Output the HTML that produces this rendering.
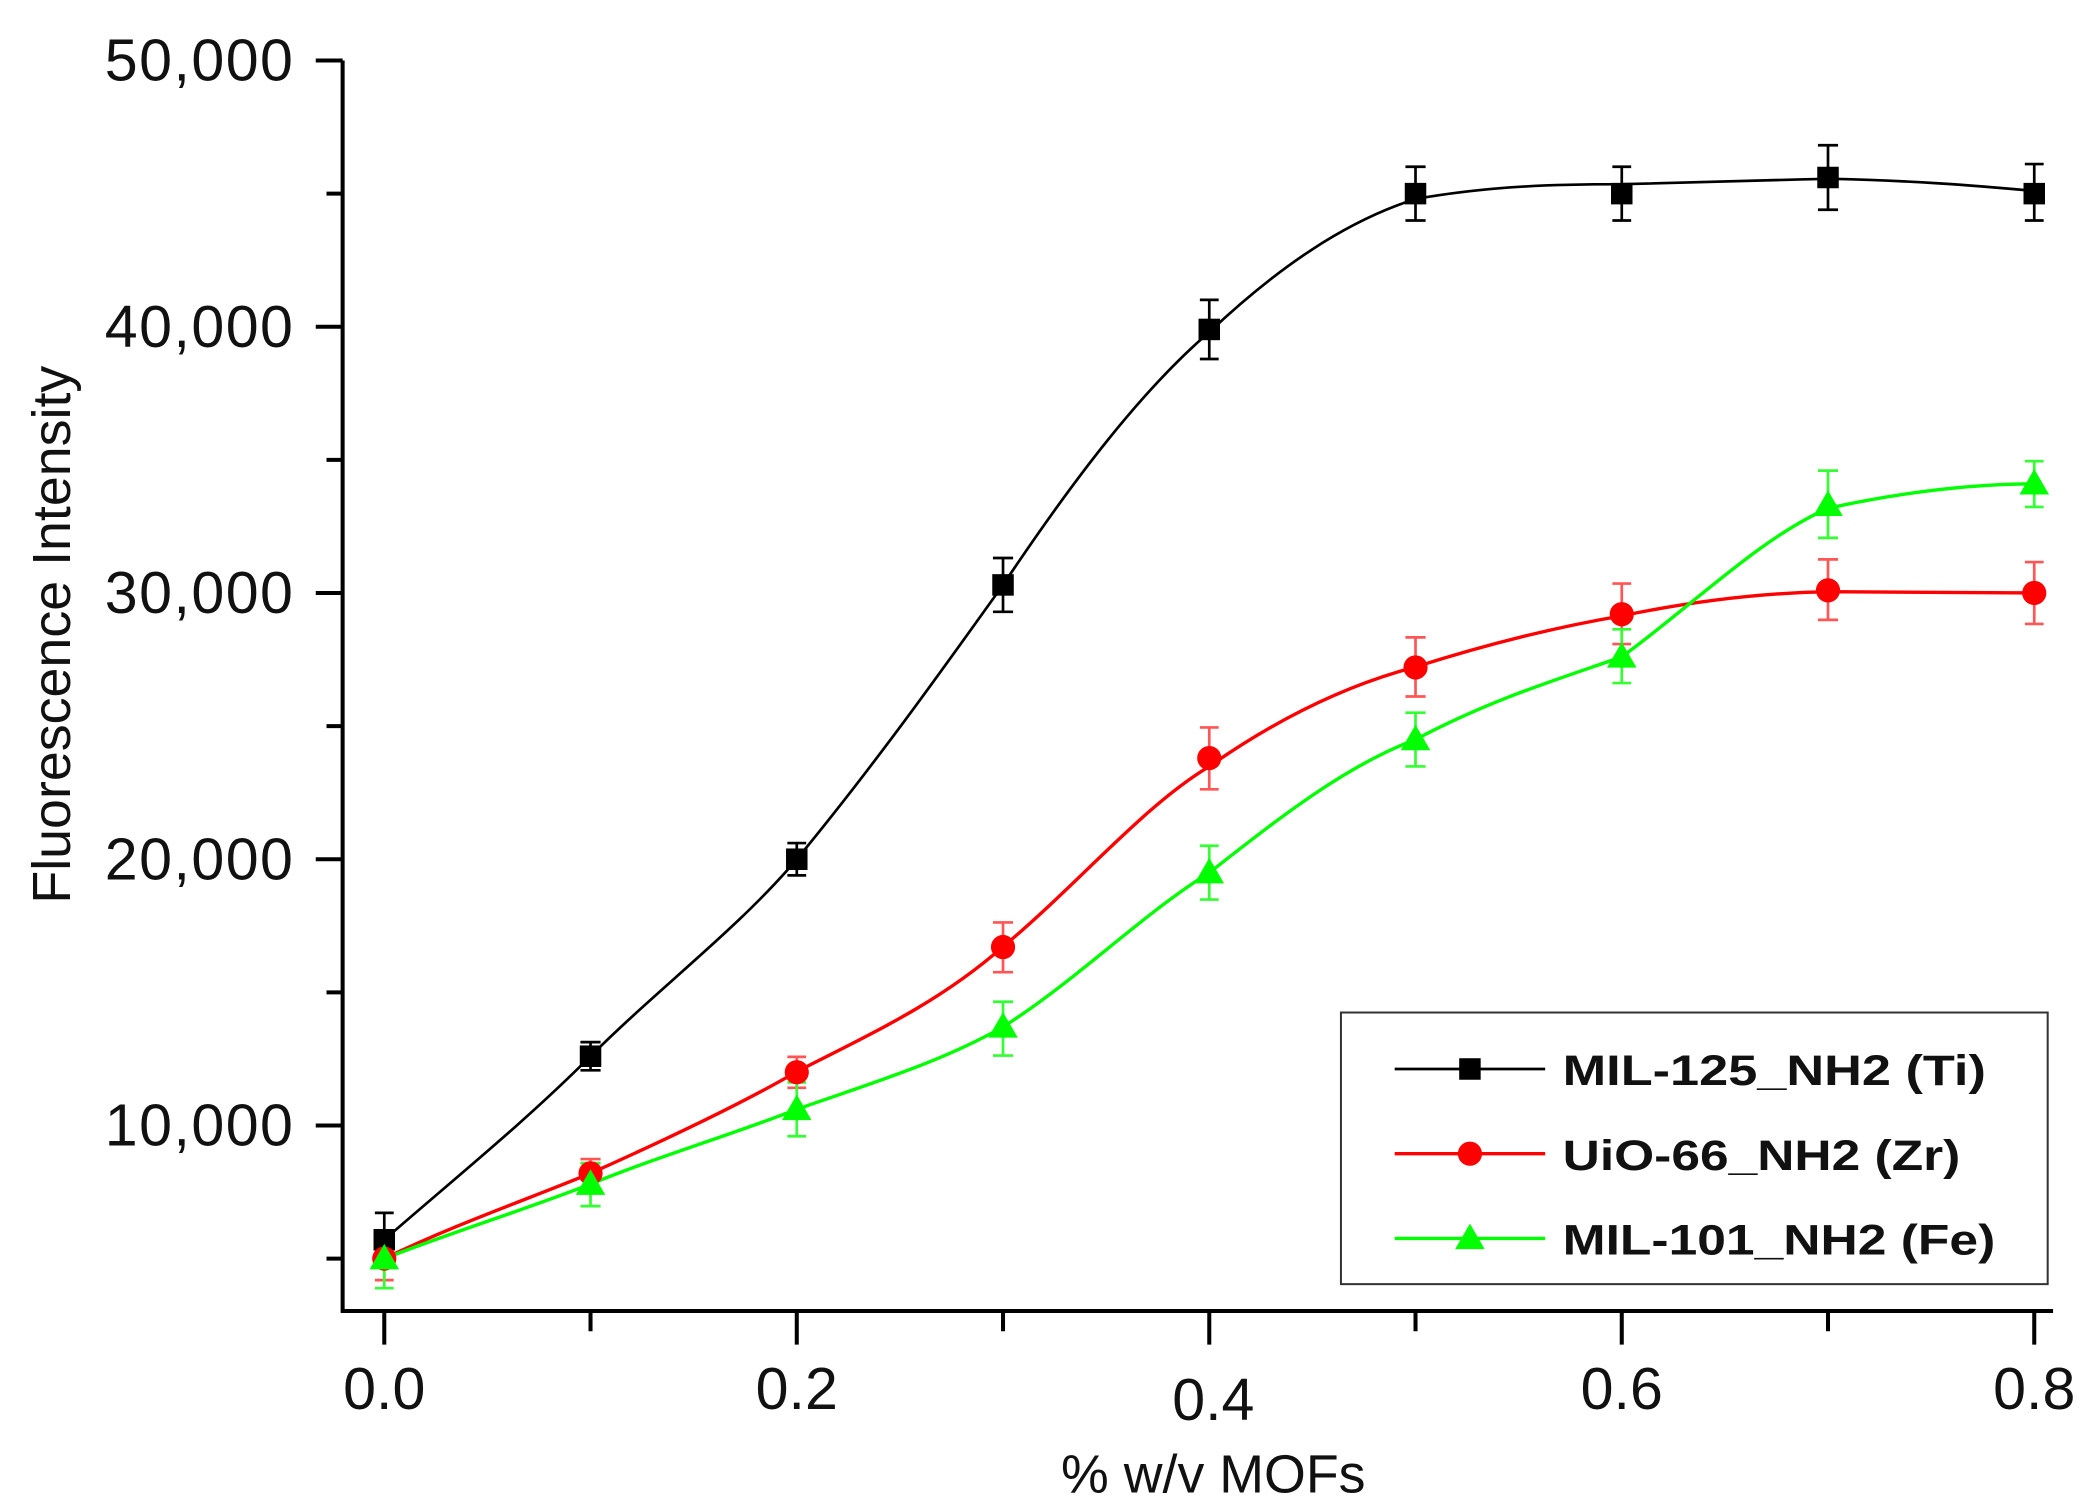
<!DOCTYPE html>
<html><head><meta charset="utf-8"><style>html,body{margin:0;padding:0;background:#fff}svg{display:block}</style></head>
<body>
<svg width="2088" height="1506" viewBox="0 0 1554 1120" preserveAspectRatio="none" xmlns="http://www.w3.org/2000/svg" font-family="Liberation Sans, Arial, sans-serif">
<rect width="1554" height="1120" fill="#fff"/>
<g stroke="#000" stroke-width="3" fill="none">
<path d="M255,45 V975 H1528"/>
<path d="M235,45H255M235,243H255M235,441H255M235,639H255M235,837H255M243,144H255M243,342H255M243,540H255M243,738H255M243,936H255"/>
<path d="M286,975V1000M439.5,975V990M593,975V1000M746.5,975V990M900,975V1000M1053.5,975V990M1207,975V1000M1360.5,975V990M1514,975V1000"/>
</g>
<g font-size="44" text-anchor="end" fill="#111">
<text x="218" y="60" textLength="140">50,000</text>
<text x="218" y="258" textLength="140">40,000</text>
<text x="218" y="456" textLength="140">30,000</text>
<text x="218" y="654" textLength="140">20,000</text>
<text x="218" y="852" textLength="140">10,000</text>
</g>
<g font-size="44" text-anchor="middle" fill="#111">
<text x="286" y="1048">0.0</text>
<text x="593" y="1048">0.2</text>
<text x="903" y="1056">0.4</text>
<text x="1207" y="1048">0.6</text>
<text x="1514" y="1048">0.8</text>
<text x="903" y="1110" font-size="40">% w/v MOFs</text>
<text transform="translate(52,472) rotate(-90)" font-size="40">Fluorescence Intensity</text>
</g>
<!-- curves -->
<path fill="none" stroke="#000" stroke-width="2" d="M286,922 C340,875 390,835 439.5,785.5 C490,735 550,690 593,639 C650,570 700,500 746.5,435 C800,355 850,290 900,247 C950,200 1000,165 1053.5,148 C1110,138 1160,137 1207,137 C1260,136 1310,134 1360.5,133 C1420,134 1470,138 1514,142"/>
<path fill="none" stroke="#f00" stroke-width="2.5" d="M286,936 C340,910 390,893 439.5,872.6 C490,850 550,822 593,797 C650,768 700,745 746.5,704 C800,660 850,600 900,570 C950,535 1000,510 1053.5,496 C1110,478 1160,466 1207,458 C1260,447 1310,441 1360.5,440 C1420,440 1470,441 1514,441"/>
<path fill="none" stroke="#0f0" stroke-width="2.5" d="M286,936 C340,915 390,900 439.5,880.6 C490,860 550,842 593,825 C650,805 700,790 746.5,763.7 C800,730 850,680 900,649 C950,610 1000,570 1053.5,550 C1110,520 1160,505 1207,488.5 C1260,450 1310,400 1360.5,378 C1420,365 1470,360 1514,359.8"/>
<!-- error bars -->
<g stroke="#000" stroke-width="2" fill="none">
<path d="M286,902V942M279,902H293M279,942H293 M439.5,775V796M432,775H447M432,796H447 M593,627V651M586,627H600M586,651H600 M746.5,415V455M739,415H754M739,455H754 M900,223V267M893,223H907M893,267H907 M1053.5,124V164M1046,124H1061M1046,164H1061 M1207,124V164M1200,124H1214M1200,164H1214 M1360.5,108V156M1353,108H1368M1353,156H1368 M1514,122V164M1507,122H1521M1507,164H1521"/>
</g>
<g stroke="#f55" stroke-width="2" fill="none">
<path d="M286,920V952M279,952H293 M439.5,862V884M432,862H447M432,884H447 M593,786V809M586,786H600M586,809H600 M746.5,686V723M739,686H754M739,723H754 M900,541V587M893,541H907M893,587H907 M1053.5,474V518M1046,474H1061M1046,518H1061 M1207,434V479M1200,434H1214M1200,479H1214 M1360.5,416V461M1353,416H1368M1353,461H1368 M1514,418V464M1507,418H1521M1507,464H1521"/>
</g>
<g stroke="#3f3" stroke-width="2" fill="none">
<path d="M286,936V958M279,958H293 M439.5,865V897M432,865H447M432,897H447 M593,805V845M586,805H600M586,845H600 M746.5,745V785M739,745H754M739,785H754 M900,629V669M893,629H907M893,669H907 M1053.5,530V570M1046,530H1061M1046,570H1061 M1207,468V508M1200,468H1214M1200,508H1214 M1360.5,350V400M1353,350H1368M1353,400H1368 M1514,343V377M1507,343H1521M1507,377H1521"/>
</g>
<!-- markers -->
<g fill="#000">
<rect x="278" y="914" width="16" height="16"/><rect x="431.5" y="777.5" width="16" height="16"/><rect x="585" y="631" width="16" height="16"/><rect x="738.5" y="427" width="16" height="16"/><rect x="892" y="237" width="16" height="16"/><rect x="1045.5" y="136" width="16" height="16"/><rect x="1199" y="136" width="16" height="16"/><rect x="1352.5" y="124" width="16" height="16"/><rect x="1506" y="136" width="16" height="16"/>
</g>
<g fill="#f00">
<circle cx="286" cy="936" r="9"/><circle cx="439.5" cy="872.6" r="9"/><circle cx="593" cy="797.4" r="9"/><circle cx="746.5" cy="704.3" r="9"/><circle cx="900" cy="563.8" r="9"/><circle cx="1053.5" cy="496.4" r="9"/><circle cx="1207" cy="456.8" r="9"/><circle cx="1360.5" cy="439" r="9"/><circle cx="1514" cy="441" r="9"/>
</g>
<g fill="#0f0">
<path d="M286,925l11,19h-22z"/><path d="M439.5,869.6l11,19h-22z"/><path d="M593,814l11,19h-22z"/><path d="M746.5,752.7l11,19h-22z"/><path d="M900,638l11,19h-22z"/><path d="M1053.5,539l11,19h-22z"/><path d="M1207,477.5l11,19h-22z"/><path d="M1360.5,364.7l11,19h-22z"/><path d="M1514,348.8l11,19h-22z"/>
</g>
<!-- legend -->
<rect x="998" y="753" width="526" height="202" fill="#fff" stroke="#333" stroke-width="1.5"/>
<path d="M1038,795H1150" stroke="#000" stroke-width="2"/><rect x="1086" y="787" width="16" height="16" fill="#000"/>
<path d="M1038,858H1150" stroke="#f00" stroke-width="2.5"/><circle cx="1094" cy="858" r="9" fill="#f00"/>
<path d="M1038,921H1150" stroke="#0f0" stroke-width="2.5"/><path d="M1094,910l11,19h-22z" fill="#0f0"/>
<g font-size="32" font-weight="bold" fill="#111">
<text x="1163" y="807" textLength="315" lengthAdjust="spacingAndGlyphs">MIL-125_NH2 (Ti)</text>
<text x="1163" y="870" textLength="296" lengthAdjust="spacingAndGlyphs">UiO-66_NH2 (Zr)</text>
<text x="1163" y="933" textLength="322" lengthAdjust="spacingAndGlyphs">MIL-101_NH2 (Fe)</text>
</g>
</svg>
</body></html>
